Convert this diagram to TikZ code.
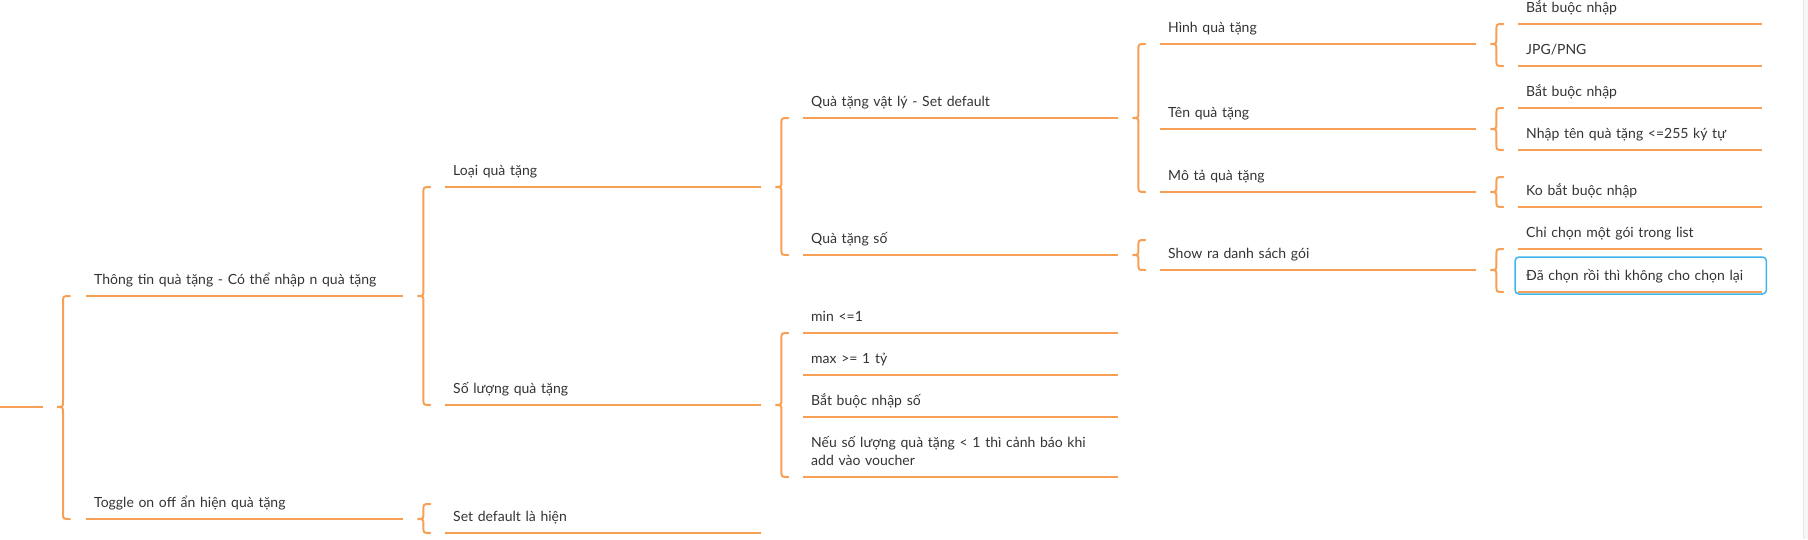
\documentclass[tikz,border=0pt]{standalone}
\usepackage{fontspec}
\setmainfont{Lato}
\usetikzlibrary{calc}
\definecolor{orng}{HTML}{F7A055}
\definecolor{selblue}{HTML}{3DB5F0}
\definecolor{txt}{HTML}{333333}
\tikzset{
	item/.style={anchor=south west,inner xsep=8pt,inner ysep=7pt,text depth=4pt,text height=12pt,
		text width=#1,align=left,font=\fontsize{14}{18}\selectfont,text=txt},
	item/.default=300pt,
	ul/.style={draw=orng,line width=2pt},
	brc/.style={ul,line cap=round},
}
% accolade : parent, premier enfant, dernier enfant
\newcommand{\mbrace}[3]{%
	\draw[brc] let \p1=(#1), \p2=(#2), \p3=(#3) in
		(\x1+27pt,\y2) .. controls (\x1+20pt,\y2) .. (\x1+20pt,\y2-6pt)
		-- (\x1+20pt,\y1+6pt) .. controls (\x1+20pt,\y1) .. (\x1+14pt,\y1)
		.. controls (\x1+20pt,\y1) .. (\x1+20pt,\y1-6pt)
		-- (\x1+20pt,\y3+6pt) .. controls (\x1+20pt,\y3) .. (\x1+27pt,\y3);}

\begin{document}
\begin{tikzpicture}[x=1pt,y=-1pt]
	\useasboundingbox (0,0) rectangle (1808,539);
	\fill[gray!7] (1803,0) rectangle (1808,539);
	\draw[gray!18,line width=0.8pt] (1803,0) -- (1803,539);
	% niveau 1
	\coordinate (rootstart) at (0,407);
	\coordinate (root) at (43,407);
	\node[item=301pt] (t1) at (86,296) {Thông tin quà tặng - Có thể nhập n quà tặng};
	\node[item=301pt] (t2) at (86,519) {Toggle on off ẩn hiện quà tặng};
	% niveau 2
	\node[item] (l1) at (445,187) {Loại quà tặng};
	\node[item] (l2) at (445,405) {Số lượng quà tặng};
	\node[item] (l3) at (445,533) {Set default là hiện};
	% niveau 3
	\node[item=299pt] (v1) at (803,118) {Quà tặng vật lý - Set default};
	\node[item=299pt] (v2) at (803,255) {Quà tặng số};
	\node[item=299pt] (s1) at (803,333) {min <=1};
	\node[item=299pt] (s2) at (803,375) {max >= 1 tỷ};
	\node[item=299pt] (s3) at (803,417) {Bắt buộc nhập số};
	\node[item=299pt,text depth=22pt] (s4) at (803,477) {Nếu số lượng quà tặng < 1 thì cảnh báo khi\\add vào voucher};
	% niveau 4
	\node[item] (h1) at (1160,44) {Hình quà tặng};
	\node[item] (h2) at (1160,129) {Tên quà tặng};
	\node[item] (h3) at (1160,192) {Mô tả quà tặng};
	\node[item] (h4) at (1160,270) {Show ra danh sách gói};
	% niveau 5
	\node[item=228pt] (a1) at (1518,24) {Bắt buộc nhập};
	\node[item=228pt] (a2) at (1518,66) {JPG/PNG};
	\node[item=228pt] (b1) at (1518,108) {Bắt buộc nhập};
	\node[item=228pt] (b2) at (1518,150) {Nhập tên quà tặng <=255 ký tự};
	\node[item=228pt] (c1) at (1518,207) {Ko bắt buộc nhập};
	\node[item=228pt] (d1) at (1518,249) {Chỉ chọn một gói trong list};
	\node[item=228pt] (d2) at (1518,292) {Đã chọn rồi thì không cho chọn lại};
	% soulignements
	\draw[ul] (rootstart) -- (root);
	\foreach \n in {t1,t2,l1,l2,l3,v1,v2,s1,s2,s3,s4,h1,h2,h3,h4,a1,a2,b1,b2,c1,d1,d2}
		\draw[ul] (\n.south west) -- (\n.south east);
	% accolades
	\mbrace{root}{t1.south west}{t2.south west}
	\mbrace{t1.south east}{l1.south west}{l2.south west}
	\mbrace{t2.south east}{$(t2.south east)+(0,-15)$}{l3.south west}
	\mbrace{l1.south east}{v1.south west}{v2.south west}
	\mbrace{l2.south east}{s1.south west}{s4.south west}
	\mbrace{v1.south east}{h1.south west}{h3.south west}
	\mbrace{v2.south east}{$(v2.south east)+(0,-15)$}{h4.south west}
	\mbrace{h1.south east}{a1.south west}{a2.south west}
	\mbrace{h2.south east}{b1.south west}{b2.south west}
	\mbrace{h3.south east}{$(h3.south east)+(0,-15)$}{c1.south west}
	\mbrace{h4.south east}{d1.south west}{d2.south west}
	% selection
	\draw[selblue,line width=1.5pt,rounded corners=4pt] ($(d2.south west)+(-3,2)$) rectangle ($(d2.south east)+(4,-35)$);
\end{tikzpicture}
\end{document}
